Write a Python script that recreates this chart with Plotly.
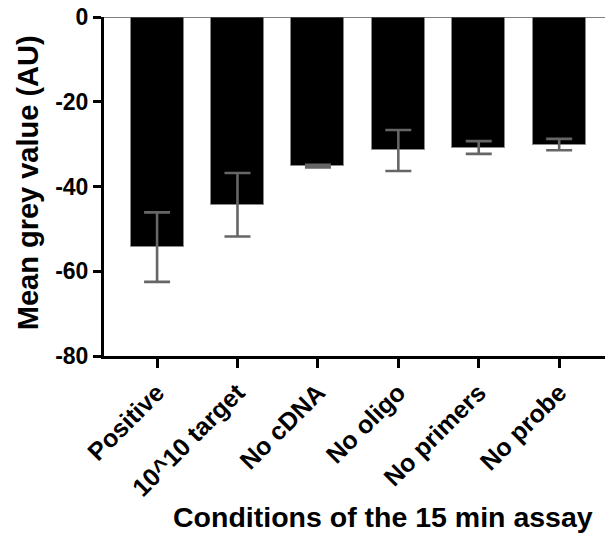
import plotly.graph_objects as go

categories = ["Positive", "10^10 target", "No cDNA", "No oligo", "No primers", "No probe"]
mean_grey = [-54.3, -44.3, -35.2, -31.5, -30.8, -30.1]
error_sd = [8.2, 7.5, 0.3, 4.85, 1.5, 1.35]
y_ticks = [0, -20, -40, -60, -80]

FONT = "Liberation Sans, Arial, sans-serif"

fig = go.Figure()
fig.add_trace(go.Bar(
    x=list(range(len(categories))),
    y=mean_grey,
    width=0.66,
    marker=dict(color="black", line=dict(color="#8a8a8a", width=1)),
    error_y=dict(type="data", array=error_sd, visible=True,
                 color="#666666", thickness=2.6, width=13),
))

# zero baseline across the top
fig.add_shape(type="line", xref="paper", yref="y", x0=0, x1=1, y0=0, y1=0,
              line=dict(color="#555555", width=1.5))

fig.update_layout(
    width=605, height=546,
    margin=dict(l=103.5, r=0, t=16.5, b=190),
    plot_bgcolor="white", paper_bgcolor="white",
    showlegend=False,
    bargap=0,
    xaxis=dict(
        range=[-0.66, 5.57],
        tickmode="array",
        tickvals=list(range(len(categories))),
        ticktext=categories,
        tickangle=-45,
        ticks="outside", ticklen=9, tickwidth=3, tickcolor="black",
        showline=True, linewidth=3, linecolor="black",
        showgrid=False, zeroline=False,
        automargin=False,
        tickfont=dict(family=FONT, size=25, color="black", weight="bold"),
    ),
    yaxis=dict(
        range=[-80, 0],
        tickmode="array",
        tickvals=y_ticks,
        ticktext=[str(v) for v in y_ticks],
        ticks="outside", ticklen=8, tickwidth=3, tickcolor="black",
        showline=True, linewidth=3, linecolor="black",
        showgrid=False, zeroline=False,
        automargin=False,
        tickfont=dict(family=FONT, size=23, color="black", weight="bold"),
    ),
    annotations=[
        dict(text="Mean grey value (AU)", xref="paper", yref="paper",
             x=-0.1514, y=0.51, xanchor="center", yanchor="middle",
             textangle=-90, showarrow=False,
             font=dict(family=FONT, size=29, color="black", weight="bold")),
        dict(text="Conditions of the 15 min assay", xref="paper", yref="paper",
             x=0.556, y=-0.4735, xanchor="center", yanchor="middle",
             showarrow=False,
             font=dict(family=FONT, size=28.5, color="black", weight="bold")),
    ],
)

fig.write_html("out.html",
               config={"displayModeBar": False},
               post_script="document.body.style.margin='0';document.body.style.overflow='hidden';")
